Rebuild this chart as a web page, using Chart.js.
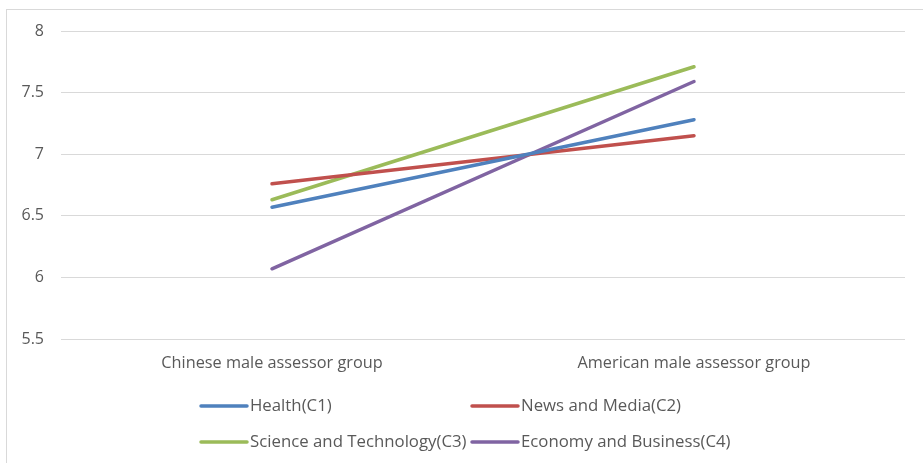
<!DOCTYPE html>
<html>
<head>
<meta charset="utf-8">
<script src="https://cdn.jsdelivr.net/npm/chart.js@4.4.1/dist/chart.umd.min.js"></script>
<style>
    html, body { margin: 0; padding: 0; background: #fff; }
    #wrap { position: relative; width: 923px; height: 463px; overflow: hidden; }
    #frame {
        position: absolute; left: 6px; top: 9px; width: 930px; height: 470px;
        border-left: 1px solid #d9d9d9; border-top: 1px solid #d9d9d9;
    }
    canvas { position: absolute; left: 0; top: 0; }
</style>
</head>
<body>
<div id="wrap">
    <div id="frame"></div>
    <canvas id="lineChart" width="923" height="463"></canvas>
</div>
<script>
// ======================= DATA =======================
const categories = ['Chinese male assessor group', 'American male assessor group'];

const healthC1 = [6.57, 7.28];
const newsMediaC2 = [6.76, 7.15];
const scienceTechC3 = [6.63, 7.71];
const economyBusinessC4 = [6.07, 7.59];

const yTicks = [5.5, 6, 6.5, 7, 7.5, 8];

// ======================= STYLE =======================
const FONT = 'Open Sans';
const TEXT_COLOR = '#595959';

// Legend drawn in two columns like the original (Chart.js centers rows otherwise)
const legendGrid = {
    id: 'legendGrid',
    afterDraw(chart) {
        const ctx = chart.ctx;
        const cols = [201, 472];
        const rows = [406, 442];
        const lineLen = 46;
        ctx.save();
        ctx.font = '16.8px "' + FONT + '"';
        ctx.textBaseline = 'middle';
        ctx.fillStyle = TEXT_COLOR;
        chart.data.datasets.forEach((ds, i) => {
            const x = cols[i % 2];
            const y = rows[Math.floor(i / 2)];
            ctx.strokeStyle = ds.borderColor;
            ctx.lineWidth = 3.5;
            ctx.lineCap = 'round';
            ctx.beginPath();
            ctx.moveTo(x, y);
            ctx.lineTo(x + lineLen, y);
            ctx.stroke();
            ctx.fillText(ds.label, x + lineLen + 3, y);
        });
        ctx.restore();
    }
};

function series(label, data, color) {
    return {
        label: label,
        data: data,
        borderColor: color,
        backgroundColor: color,
        borderWidth: 3.5,
        borderCapStyle: 'round',
        pointRadius: 0,
        pointHoverRadius: 0,
        tension: 0
    };
}

const ctx = document.getElementById('lineChart').getContext('2d');

new Chart(ctx, {
    type: 'line',
    data: {
        labels: categories,
        datasets: [
            series('Health(C1)', healthC1, '#4f81bd'),
            series('News and Media(C2)', newsMediaC2, '#c0504d'),
            series('Science and Technology(C3)', scienceTechC3, '#9bbb59'),
            series('Economy and Business(C4)', economyBusinessC4, '#8064a2')
        ]
    },
    plugins: [legendGrid],
    options: {
        responsive: false,
        animation: false,
        layout: {
            padding: { top: 31, right: 18, left: 0, bottom: 0 }
        },
        scales: {
            x: {
                offset: true,
                grid: { display: false },
                border: { display: false },
                ticks: {
                    color: TEXT_COLOR,
                    padding: 7,
                    maxRotation: 0,
                    font: { family: FONT, size: 16.3 }
                },
                afterFit: s => { s.height = 124; }
            },
            y: {
                min: 5.5,
                max: 8,
                grid: { color: '#d9d9d9', lineWidth: 1, drawTicks: false },
                border: { display: false },
                afterBuildTicks: s => { s.ticks = yTicks.map(v => ({ value: v })); },
                ticks: {
                    color: TEXT_COLOR,
                    padding: 17,
                    font: { family: FONT, size: 16 },
                    callback: v => String(v)
                },
                afterFit: s => { s.width = 61; }
            }
        },
        plugins: {
            legend: { display: false },
            tooltip: { enabled: false }
        }
    }
});
</script>
</body>
</html>
